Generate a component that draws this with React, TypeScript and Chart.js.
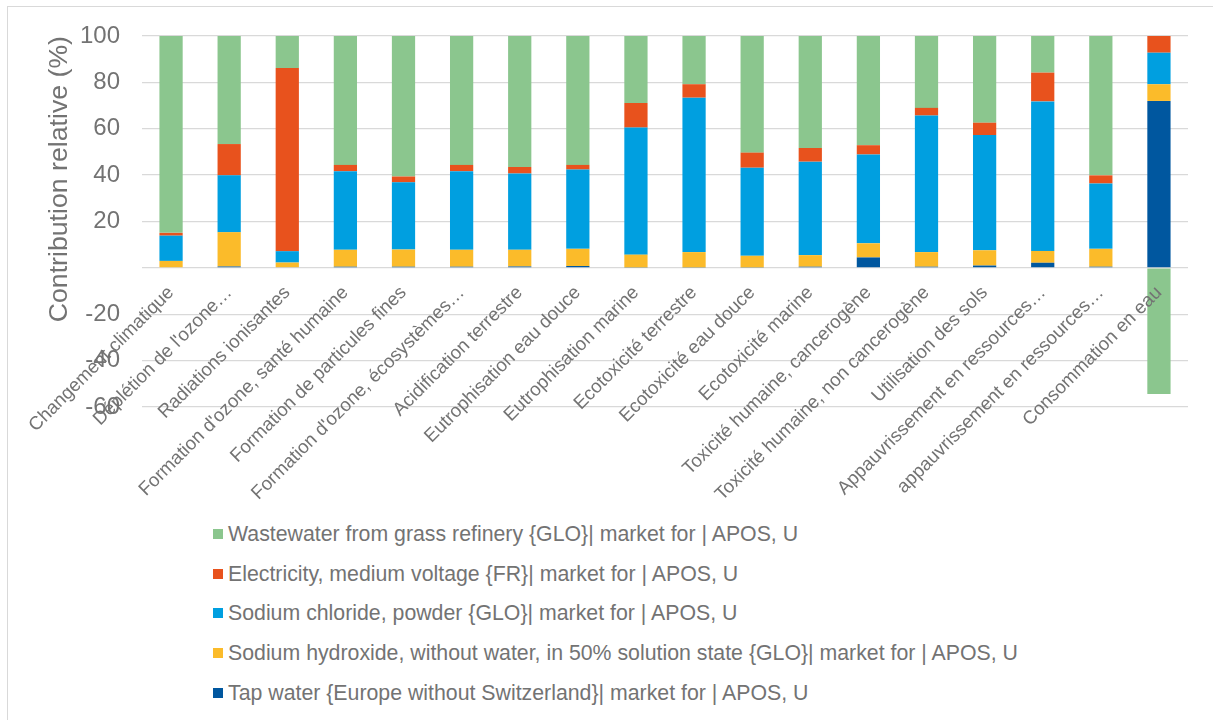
import React, { useEffect, useRef } from "react";
import { Chart, registerables } from "chart.js";

Chart.register(...registerables);

const categories = [
  "Changement climatique",
  "Déplétion de l'ozone…",
  "Radiations ionisantes",
  "Formation d'ozone, santé humaine",
  "Formation de particules fines",
  "Formation d'ozone, écosystèmes…",
  "Acidification terrestre",
  "Eutrophisation eau douce",
  "Eutrophisation marine",
  "Ecotoxicité terrestre",
  "Ecotoxicité eau douce",
  "Ecotoxicité marine",
  "Toxicité humaine, cancerogène",
  "Toxicité humaine, non cancerogène",
  "Utilisation des sols",
  "Appauvrissement en ressources…",
  "appauvrissement en ressources…",
  "Consommation en eau",
];

const tapWater = [0, 0.6, 0.3, 0.5, 0.5, 0.5, 0.6, 0.8, 0.2, 0.2, 0.2, 0.5, 4.5, 0.5, 1.0, 2.2, 0.5, 72.0];
const sodiumHydroxide = [3.0, 14.8, 2.0, 7.3, 7.4, 7.3, 7.2, 7.4, 5.5, 6.6, 5.0, 5.0, 6.1, 6.3, 6.6, 5.1, 7.7, 7.2];
const sodiumChloride = [10.9, 24.5, 4.9, 33.9, 29.0, 33.9, 32.9, 34.2, 54.8, 66.6, 38.0, 40.3, 38.3, 58.9, 49.7, 64.5, 28.2, 13.6];
const electricity = [1.2, 13.5, 79.0, 2.7, 2.5, 2.7, 2.8, 2.0, 10.6, 5.8, 6.5, 5.9, 4.0, 3.3, 5.3, 12.4, 3.5, 7.2];
const wastewater = [84.9, 46.6, 13.8, 55.6, 60.6, 55.6, 56.5, 55.6, 28.9, 20.8, 50.3, 48.3, 47.1, 31.0, 37.4, 15.8, 60.1, -54.4];

const seriesNames = [
  "Tap water {Europe without Switzerland}| market for | APOS, U",
  "Sodium hydroxide, without water, in 50% solution state {GLO}| market for | APOS, U",
  "Sodium chloride, powder {GLO}| market for | APOS, U",
  "Electricity, medium voltage {FR}| market for | APOS, U",
  "Wastewater from grass refinery {GLO}| market for | APOS, U",
];
const seriesColors = ["#00579F", "#FBBB2A", "#009FE0", "#E8521D", "#8BC68E"];
const seriesValues = [tapWater, sodiumHydroxide, sodiumChloride, electricity, wastewater];

const yTitle = "Contribution relative (%)";
const yMin = -60;
const yMax = 100;
const yStep = 20;

const FONT = "'Liberation Sans', Arial, Helvetica, sans-serif";
const TEXT = "#737373";

export default function App() {
  const canvasRef = useRef<HTMLCanvasElement | null>(null);

  useEffect(() => {
    if (!canvasRef.current) return;
    const chart = new Chart(canvasRef.current, {
      type: "bar",
      data: {
        labels: categories,
        datasets: seriesValues.map((vals, i) => ({
          label: seriesNames[i],
          data: vals,
          backgroundColor: seriesColors[i],
          borderWidth: 0,
          categoryPercentage: 0.8,
          barPercentage: 0.5,
        })),
      },
      options: {
        animation: false,
        responsive: true,
        maintainAspectRatio: false,
        layout: { padding: { top: 29, right: 26, bottom: 110, left: 0 } },
        plugins: { legend: { display: false }, tooltip: { enabled: false } },
        scales: {
          x: {
            stacked: true,
            position: { y: 0 } as any,
            grid: { display: false },
            border: { display: false },
            ticks: {
              autoSkip: false,
              minRotation: 45,
              maxRotation: 45,
              padding: 6,
              z: 1,
              color: TEXT,
              font: { family: FONT, size: 18.7 },
            },
            afterFit: (s: any) => {
              s.height = 0;
            },
          },
          y: {
            stacked: true,
            min: yMin,
            max: yMax,
            ticks: {
              stepSize: yStep,
              padding: 22,
              color: TEXT,
              font: { family: FONT, size: 24 },
              callback: (v: any) => (Number(v) === 0 ? "" : String(v)),
            },
            grid: { color: "#d9d9d9", lineWidth: 1.3, drawTicks: false },
            border: { display: false },
            title: {
              display: true,
              text: yTitle,
              align: "end",
              color: TEXT,
              font: { family: FONT, size: 26.7 },
              padding: { top: 36, bottom: 0 },
            },
            afterFit: (s: any) => {
              s.width = 134;
              s.paddingTop = 0;
              s.paddingBottom = 0;
            },
          },
        },
      },
    });
    return () => chart.destroy();
  }, []);

  const legendOrder = [4, 3, 2, 1, 0];

  return (
    <div
      style={{
        position: "absolute",
        left: 7,
        top: 6,
        width: 1300,
        height: 800,
        border: "1px solid #d9d9d9",
        boxSizing: "border-box",
        background: "#fff",
        fontFamily: FONT,
      }}
    >
      <div style={{ position: "absolute", left: 0, top: 0, width: 1206, height: 510 }}>
        <canvas ref={canvasRef} />
      </div>
      {legendOrder.map((si, row) => (
        <div
          key={si}
          style={{
            position: "absolute",
            left: 205,
            top: 527 + row * 39.7 - 12,
            height: 24,
            display: "flex",
            alignItems: "center",
            whiteSpace: "nowrap",
            fontSize: 21.3,
            lineHeight: "24px",
            color: TEXT,
          }}
        >
          <span
            style={{
              display: "inline-block",
              width: 10,
              height: 10,
              background: seriesColors[si],
              marginRight: 5,
            }}
          />
          <span>{seriesNames[si]}</span>
        </div>
      ))}
    </div>
  );
}
